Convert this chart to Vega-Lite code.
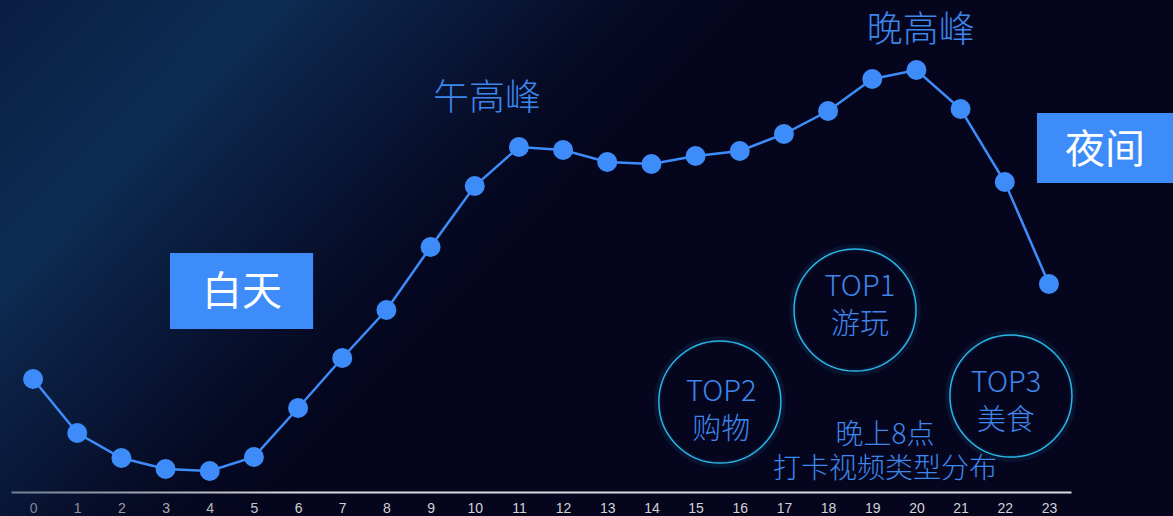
{
  "$schema": "https://vega.github.io/schema/vega-lite/v6.json",
  "width": 1060,
  "height": 492,
  "autosize": {"type": "none"},
  "padding": {"left": 11, "top": 0, "right": 102, "bottom": 24},
  "background": "#05061e",
  "config": {"view": {"stroke": null}},
  "data": {
    "values": [
      {"kind": "hour", "x": 0, "y": 113}, {"kind": "hour", "x": 1, "y": 59}, {"kind": "hour", "x": 2, "y": 34},
      {"kind": "hour", "x": 3, "y": 23}, {"kind": "hour", "x": 4, "y": 21}, {"kind": "hour", "x": 5, "y": 35},
      {"kind": "hour", "x": 6, "y": 84}, {"kind": "hour", "x": 7, "y": 134}, {"kind": "hour", "x": 8, "y": 182},
      {"kind": "hour", "x": 9, "y": 245}, {"kind": "hour", "x": 10, "y": 306}, {"kind": "hour", "x": 11, "y": 345},
      {"kind": "hour", "x": 12, "y": 342}, {"kind": "hour", "x": 13, "y": 330}, {"kind": "hour", "x": 14, "y": 328},
      {"kind": "hour", "x": 15, "y": 336}, {"kind": "hour", "x": 16, "y": 341}, {"kind": "hour", "x": 17, "y": 358},
      {"kind": "hour", "x": 18, "y": 381}, {"kind": "hour", "x": 19, "y": 413}, {"kind": "hour", "x": 20, "y": 422},
      {"kind": "hour", "x": 21, "y": 383}, {"kind": "hour", "x": 22, "y": 310}, {"kind": "hour", "x": 23, "y": 208},
      {"kind": "bubble", "x": 15.55, "y": 90, "text": "TOP2"},
      {"kind": "bubble", "x": 18.61, "y": 182, "text": "TOP1"},
      {"kind": "bubble", "x": 22.14, "y": 96, "text": "TOP3"},
      {"kind": "box", "x": 3.10, "x2": 6.34, "y": 163, "y2": 239, "text": "白天"},
      {"kind": "box", "x": 22.73, "x2": 26.0, "y": 309, "y2": 379, "text": "夜间"},
      {"kind": "boxlabel", "x": 4.73, "y": 199, "text": "白天"},
      {"kind": "boxlabel", "x": 24.27, "y": 341, "text": "夜间"},
      {"kind": "peak", "x": 10.28, "y": 393, "text": "午高峰"},
      {"kind": "peak", "x": 20.10, "y": 461, "text": "晚高峰"},
      {"kind": "top", "x": 15.58, "y": 100, "text": ["TOP2", "购物"]},
      {"kind": "top", "x": 18.72, "y": 205, "text": ["TOP1", "游玩"]},
      {"kind": "top", "x": 22.03, "y": 109, "text": ["TOP3", "美食"]},
      {"kind": "caption", "x": 19.29, "y": 56, "text": ["晚上8点", "打卡视频类型分布"]}
    ]
  },
  "encoding": {
    "x": {
      "field": "x", "type": "quantitative",
      "scale": {"domain": [-0.5, 23.5], "nice": false, "zero": false},
      "axis": {
        "title": null, "grid": false, "ticks": false,
        "values": [0,1,2,3,4,5,6,7,8,9,10,11,12,13,14,15,16,17,18,19,20,21,22,23],
        "domainColor": "#dcdcdc", "domainWidth": 2,
        "labelColor": "#d2d2d6", "labelFontSize": 14, "labelPadding": 9,
        "labelFlush": false, "labelOverlap": false
      }
    },
    "y": {
      "field": "y", "type": "quantitative",
      "scale": {"domain": [0, 492], "nice": false, "zero": false},
      "axis": null
    }
  },
  "layer": [
    {
      "transform": [{"filter": "datum.kind === 'box'"}, {"filter": "datum.text === '白天'"}],
      "mark": {
        "type": "rect",
        "fill": {
          "gradient": "linear", "x1": 0, "y1": 0, "x2": 1, "y2": 0.43,
          "stops": [
            {"offset": 0, "color": "rgba(10,34,72,0.85)"},
            {"offset": 0.2, "color": "rgba(16,54,96,0.8)"},
            {"offset": 0.36, "color": "rgba(12,40,80,0.5)"},
            {"offset": 0.56, "color": "rgba(5,6,30,0)"},
            {"offset": 1, "color": "rgba(5,6,30,0)"}
          ]
        }
      },
      "encoding": {
        "x": {"datum": -0.75},
        "x2": {"datum": 25.81},
        "y": {"datum": 492},
        "y2": {"datum": -24}
      }
    },
    {
      "transform": [{"filter": "datum.kind === 'bubble'"}],
      "mark": {"type": "point", "shape": "circle", "filled": false, "size": 15500, "stroke": "#1f8fd0", "strokeWidth": 7, "strokeOpacity": 0.15}
    },
    {
      "transform": [{"filter": "datum.kind === 'bubble'"}],
      "mark": {"type": "point", "shape": "circle", "filled": false, "size": 14900, "stroke": "#2bb4e6", "strokeWidth": 1.5, "opacity": 1}
    },
    {
      "transform": [{"filter": "datum.kind === 'box'"}],
      "mark": {"type": "rect", "fill": "#3d8cf9"},
      "encoding": {
        "x2": {"field": "x2"},
        "y2": {"field": "y2"}
      }
    },
    {
      "transform": [{"filter": "datum.kind === 'boxlabel'"}],
      "mark": {"type": "text", "color": "#ffffff", "fontSize": 40, "font": "Noto Sans CJK SC", "fontWeight": 400, "baseline": "middle", "align": "center"},
      "encoding": {"text": {"field": "text"}}
    },
    {
      "transform": [{"filter": "datum.kind === 'hour'"}],
      "mark": {"type": "line", "color": "#3d8cf9", "strokeWidth": 2.5}
    },
    {
      "transform": [{"filter": "datum.kind === 'hour'"}],
      "mark": {"type": "circle", "color": "#3d8cf9", "size": 400, "opacity": 1}
    },
    {
      "transform": [{"filter": "datum.kind === 'peak'"}],
      "mark": {"type": "text", "color": "#3d86ec", "font": "Noto Sans CJK SC", "fontWeight": 300, "fontSize": 36, "baseline": "middle", "align": "center"},
      "encoding": {"text": {"field": "text"}}
    },
    {
      "transform": [{"filter": "datum.kind === 'top'"}],
      "mark": {"type": "text", "color": "#3d86ec", "font": "Noto Sans CJK SC", "fontWeight": 300, "fontSize": 29, "lineHeight": 38, "baseline": "middle", "align": "center"},
      "encoding": {"text": {"field": "text"}}
    },
    {
      "transform": [{"filter": "datum.kind === 'caption'"}],
      "mark": {"type": "text", "color": "#3d86ec", "font": "Noto Sans CJK SC", "fontWeight": 300, "fontSize": 28, "lineHeight": 34, "baseline": "middle", "align": "center"},
      "encoding": {"text": {"field": "text"}}
    }
  ]
}
